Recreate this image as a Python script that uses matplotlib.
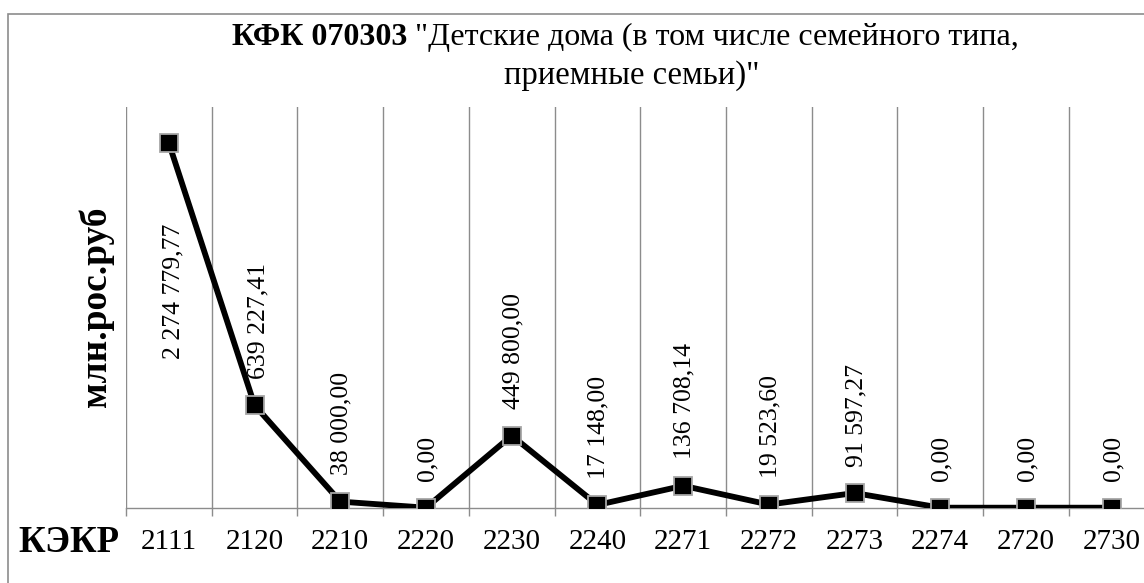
import matplotlib.pyplot as plt
from matplotlib.patches import Rectangle

codes = ["2111", "2120", "2210", "2220", "2230", "2240",
         "2271", "2272", "2273", "2274", "2720", "2730"]
values = [2274779.77, 639227.41, 38000.00, 0.00, 449800.00, 17148.00,
          136708.14, 19523.60, 91597.27, 0.00, 0.00, 0.00]

title_bold = "КФК 070303"
title_rest = ' "Детские дома (в том числе семейного типа,'
title_line2 = 'приемные семьи)"'
y_label = "млн.рос.руб"
x_label = "КЭКР"


def fmt_rub(v):
    return f"{v:,.2f}".replace(",", " ").replace(".", ",")


plt.rcParams["font.family"] = ["Liberation Serif", "DejaVu Serif"]

W, H = 1144, 583
fig = plt.figure(figsize=(W / 100, H / 100), dpi=100)

# chart border (right and bottom edges fall outside the picture)
fig.patches.append(Rectangle((8 / W, -0.1), 1.2, (H - 14) / H + 0.1,
                             transform=fig.transFigure, fill=False,
                             edgecolor="#8c8c8c", linewidth=1.2))

ax = fig.add_axes([126 / W, (H - 507.7) / H, 1028.6 / W, 400.7 / H])

x = list(range(len(codes)))
ax.plot(x, values, color="black", linewidth=4.2, marker="s",
        markersize=13, markerfacecolor="black",
        markeredgecolor="#a6a6a6", markeredgewidth=1.3, zorder=3)

ax.set_xlim(-0.5, len(codes) - 0.5)
ax.set_ylim(0, 2500000)
ax.set_xticks(x)
ax.set_xticklabels(codes, fontsize=21)
ax.set_xticks([i - 0.5 for i in range(len(codes) + 1)], minor=True)
ax.set_yticks([])
ax.tick_params(axis="x", which="major", length=0, pad=15)
ax.tick_params(axis="x", which="minor", length=6, color="#8c8c8c", width=1)
ax.grid(True, which="minor", axis="x", color="#8c8c8c", linewidth=1)
for side in ["top", "right", "left"]:
    ax.spines[side].set_visible(False)
ax.spines["bottom"].set_color("#8c8c8c")
ax.spines["bottom"].set_linewidth(1)

for i, v in enumerate(values):
    if i == 0:
        xy_off, va = (3.6, -107), "center"
    elif i == 1:
        xy_off, va = (3, 60.5), "center"
    else:
        xy_off, va = (1, 19), "bottom"
    ax.annotate(fmt_rub(v), (i, v), xytext=xy_off, textcoords="offset points",
                rotation=90, ha="center", va=va, fontsize=18.5)

# title: bold code + regular name
fig.canvas.draw()
r = fig.canvas.get_renderer()
t1 = fig.text(232 / W, (H - 45) / H, title_bold, fontsize=23,
              fontweight="bold", ha="left", va="baseline")
bb = t1.get_window_extent(r)
fig.text(bb.x1 / W, (H - 45) / H, title_rest, fontsize=23,
         ha="left", va="baseline")
fig.text(632 / W, (H - 84) / H, title_line2, fontsize=23.5,
         ha="center", va="baseline")

fig.text(96 / W, (H - 307) / H, y_label, fontsize=27, fontweight="bold",
         rotation=90, ha="center", va="center")
fig.text(18 / W, (H - 552) / H, x_label, fontsize=26.5, fontweight="bold",
         ha="left", va="baseline")

fig.savefig("out.png", dpi=100)
